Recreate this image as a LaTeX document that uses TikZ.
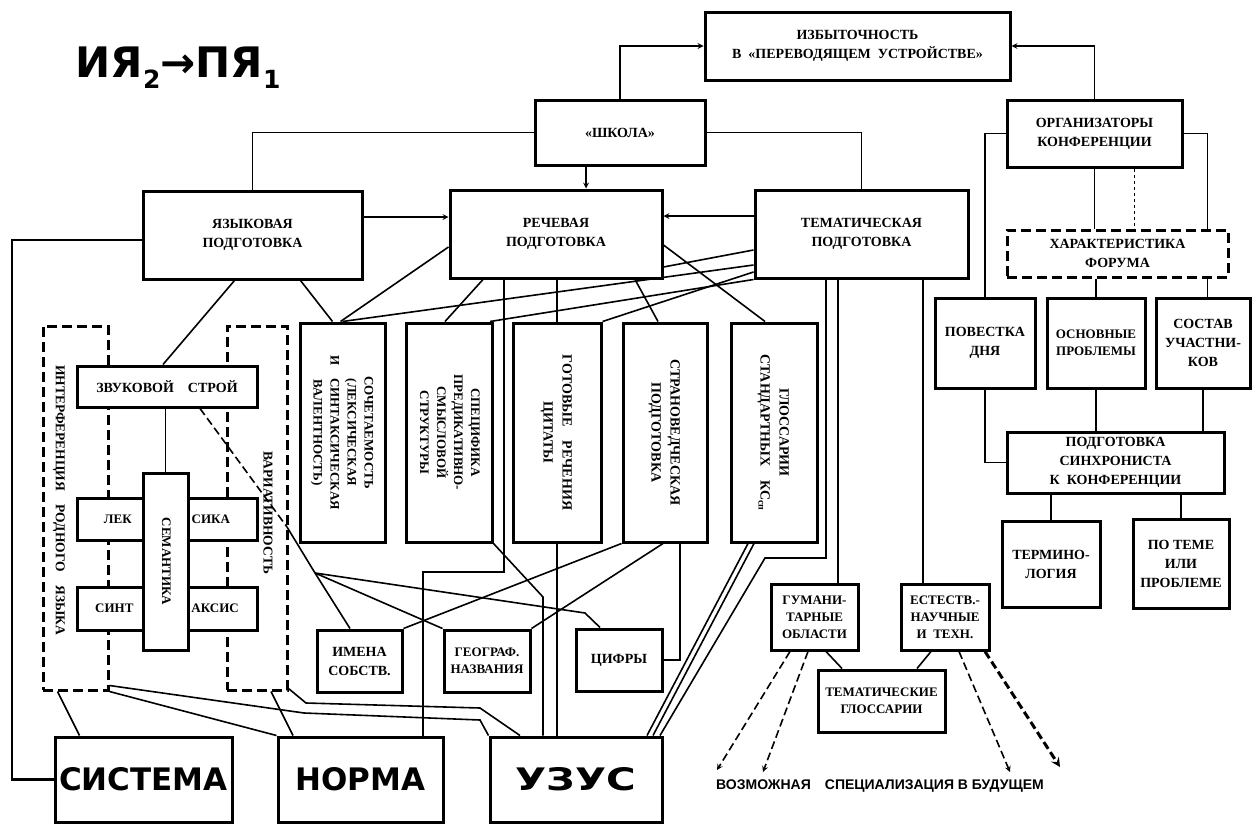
\documentclass[tikz,border=0pt]{standalone}
\usepackage{fontspec}
\usepackage{graphicx}
\setmainfont{Liberation Serif}
\newfontfamily\heavyfont{DejaVu Sans}
\newfontfamily\capsfont{Liberation Sans}
\usetikzlibrary{backgrounds}

\newcommand{\vtext}[1]{\rotatebox{-90}{\begin{tabular}{@{}c@{}}#1\end{tabular}}}

\begin{document}
\begin{tikzpicture}[x=1pt, y=-1pt, >=stealth,
  box/.style={draw, line width=3pt, fill=white, inner sep=1pt, align=center,
    font=\bfseries\fontsize{14}{19}\selectfont},
  small/.style={font=\bfseries\fontsize{13}{17}\selectfont},
  dbox/.style={draw, line width=3pt, dash pattern=on 10pt off 5pt},
  big/.style={font=\heavyfont\bfseries\fontsize{31}{31}\selectfont},
  link/.style={line width=1.6pt},
  future/.style={dashed, dash pattern=on 8pt off 4pt, ->}]
\useasboundingbox (0,0) rectangle (1253,825);

\node[font=\heavyfont\bfseries\fontsize{42}{42}\selectfont, anchor=west] (title) at (72,68)
  {ИЯ\raisebox{-11pt}{\fontsize{25}{25}\selectfont 2}→ПЯ\raisebox{-11pt}{\fontsize{25}{25}\selectfont 1}};

% top row
\node[box, minimum width=305, minimum height=68] (izb) at (857.5,46) {ИЗБЫТОЧНОСТЬ\\В\ \ «ПЕРЕВОДЯЩЕМ\ \ УСТРОЙСТВЕ»};
\node[box, minimum width=170, minimum height=65] (shkola) at (620,132.5) {«ШКОЛА»};
\node[box, minimum width=175, minimum height=67] (org) at (1094.5,133.5) {ОРГАНИЗАТОРЫ\\КОНФЕРЕНЦИИ};
\node[box, minimum width=219, minimum height=88] (yazyk) at (252.5,235) {ЯЗЫКОВАЯ\\ПОДГОТОВКА};
\node[box, minimum width=212, minimum height=88] (rech) at (556,234) {РЕЧЕВАЯ\\ПОДГОТОВКА};
\node[box, minimum width=213, minimum height=88] (tem) at (861.5,234) {ТЕМАТИЧЕСКАЯ\\ПОДГОТОВКА};

% conference side
\node[box, dbox, minimum width=221, minimum height=47] (har) at (1117.5,253.5) {ХАРАКТЕРИСТИКА\\ФОРУМА};
\node[box, minimum width=100, minimum height=90] (povest) at (985,343) {ПОВЕСТКА\\ДНЯ};
\node[box, small, minimum width=98, minimum height=90] (osn) at (1096,343) {ОСНОВНЫЕ\\ПРОБЛЕМЫ};
\node[box, minimum width=94, minimum height=90] (sostav) at (1203,343) {СОСТАВ\\УЧАСТНИ-\\КОВ};
\node[box, minimum width=217, minimum height=61] (sinhr) at (1115.5,462.5) {ПОДГОТОВКА\\СИНХРОНИСТА\\К\ \ КОНФЕРЕНЦИИ};
\node[box, minimum width=98, minimum height=86] (termin) at (1051,564) {ТЕРМИНО-\\ЛОГИЯ};
\node[box, minimum width=96, minimum height=89] (potem) at (1181,563.5) {ПО\ ТЕМЕ\\ИЛИ\\ПРОБЛЕМЕ};

% vertical boxes
\node[box, small, minimum width=85, minimum height=219] (soch) at (342.5,432.5)
  {\vtext{СОЧЕТАЕМОСТЬ\\(ЛЕКСИЧЕСКАЯ\\И\quad СИНТАКСИЧЕСКАЯ\\ВАЛЕНТНОСТЬ)}};
\node[box, small, minimum width=86, minimum height=219] (spec) at (449,432.5)
  {\vtext{СПЕЦИФИКА\\ПРЕДИКАТИВНО-\\СМЫСЛОВОЙ\\СТРУКТУРЫ}};
\node[box, minimum width=88, minimum height=219] (gotov) at (557,432.5)
  {\vtext{ГОТОВЫЕ\quad РЕЧЕНИЯ\\ЦИТАТЫ}};
\node[box, minimum width=84, minimum height=219] (stran) at (665,432.5)
  {\vtext{СТРАНОВЕДЧЕСКАЯ\\ПОДГОТОВКА}};
\node[box, minimum width=86, minimum height=219] (gloss) at (774,432.5)
  {\vtext{ГЛОССАРИИ\\СТАНДАРТНЫХ\quad КС\textsubscript{сп}}};

% small boxes
\node[box, minimum width=85, minimum height=62] (imena) at (359.5,661) {ИМЕНА\\СОБСТВ.};
\node[box, small, minimum width=86, minimum height=62] (geogr) at (487,661) {ГЕОГРАФ.\\НАЗВАНИЯ};
\node[box, minimum width=86, minimum height=62] (cifry) at (619,660) {ЦИФРЫ};
\node[box, small, minimum width=87, minimum height=66] (guman) at (814.5,617) {ГУМАНИ-\\ТАРНЫЕ\\ОБЛАСТИ};
\node[box, small, minimum width=88, minimum height=66] (estest) at (945,617) {ЕСТЕСТВ.-\\НАУЧНЫЕ\\И\ \ ТЕХН.};
\node[box, small, minimum width=127, minimum height=62] (temgloss) at (881.5,701) {ТЕМАТИЧЕСКИЕ\\ГЛОССАРИИ};

% left cluster
\node[dbox, minimum width=65, minimum height=364] (interf) at (75.5,508) {};
\node[dbox, minimum width=60, minimum height=364] (variat) at (257,508) {};
\node[font=\bfseries\fontsize{13.5}{13.5}\selectfont, rotate=-90] (interftxt) at (59,500)
  {ИНТЕРФЕРЕНЦИЯ\quad РОДНОГО\quad ЯЗЫКА};
\node[font=\bfseries\fontsize{13.5}{13.5}\selectfont, rotate=-90] (variattxt) at (268,513) {ВАРИАТИВНОСТЬ};
\node[box, minimum width=180, minimum height=41] (zvuk) at (167,386.5) {ЗВУКОВОЙ\quad СТРОЙ};
\node[box, small, minimum width=180, minimum height=42] (leks) at (167,519) {ЛЕК\hspace{60pt}СИКА};
\node[box, small, minimum width=180, minimum height=43] (sint) at (167,608.5) {СИНТ\hspace{58pt}АКСИС};
\node[box, small, minimum width=45, minimum height=177] (seman) at (165.5,561.5) {\vtext{СЕМАНТИКА}};

% bottom
\node[box, big, minimum width=177, minimum height=85] (sistema) at (143.5,779.5) {СИСТЕМА};
\node[box, big, minimum width=165, minimum height=85] (norma) at (360.5,779.5) {НОРМА};
\node[box, big, minimum width=172, minimum height=85] (uzus) at (576,779.5) {\scalebox{1.3}[1]{УЗУС}};
\node[font=\capsfont\bfseries\fontsize{14}{14}\selectfont] (future) at (880,786)
  {ВОЗМОЖНАЯ\quad СПЕЦИАЛИЗАЦИЯ В БУДУЩЕМ};

\coordinate (lft) at (12,779.5);
\coordinate (nb) at (423,572);
\coordinate (sb) at (543,597);
\coordinate (tb) at (765,558);
\coordinate (vr) at (287,527);
\coordinate (hub) at (315,573);
\coordinate (cb) at (585,613);
\coordinate (u1) at (304,713);
\coordinate (u2) at (480,720);
\coordinate (v1) at (306,703);
\coordinate (v2) at (480,708);
\coordinate (e1) at (717,770);
\coordinate (e2) at (763,772);
\coordinate (e3) at (1010,772);
\coordinate (e4) at (1060,767);

\begin{scope}[on background layer={link}]
% top
\draw[->] (shkola.north) |- (izb.west);
\draw[->] (org.north) |- (izb.east);
\draw (shkola.west) -| (yazyk.north);
\draw (shkola.east) -| (tem.north);
\draw[->] ([xshift=-34pt]shkola.south) -- ([xshift=30pt]rech.north);
\draw[->] ([yshift=18pt]yazyk.east) -- ([yshift=17pt]rech.west);
\draw[->] ([yshift=18pt]tem.west) -- ([yshift=18pt]rech.east);
\draw[line width=2.6pt] ([yshift=-5pt]yazyk.west) -| (lft) -- (sistema.west);
% conference
\draw (org.west) -| (povest.north);
\draw (org.east) -| ([xshift=90pt]har.north);
\draw (org.south) -- (org.south |- har.north);
\draw[dashed] ([xshift=40pt]org.south) -- ([xshift=40pt]org.south |- har.north);
\draw (har.south -| osn.north) -- (osn.north);
\draw ([xshift=90pt]har.south) -- ([xshift=90pt]har.south |- sostav.north);
\draw (povest.south) |- (sinhr.west);
\draw (osn.south) -- (osn.south |- sinhr.north);
\draw (sostav.south) -- (sostav.south |- sinhr.north);
\draw (sinhr.south -| termin.north) -- (termin.north);
\draw (sinhr.south -| potem.north) -- (potem.north);
% middle
\draw ([yshift=-13pt]rech.west) -- ([xshift=-2pt]soch.north);
\draw ([xshift=48pt]yazyk.south) -- ([xshift=-10pt]soch.north);
\draw ([xshift=-18pt]yazyk.south) -- ([xshift=-4pt]zvuk.north);
\draw ([yshift=-16pt]tem.west) -- ([yshift=-33pt]rech.east);
\draw ([yshift=-31pt]tem.west) -- (soch.north);
\draw ([yshift=-38pt]tem.west) -- (gotov.north east);
\draw (tem.south west) -- ([xshift=41pt]spec.north);
\draw ([xshift=-73pt]rech.south) -- ([xshift=-4pt]spec.north);
\draw ([xshift=-52pt]rech.south) |- (nb) -- (nb |- norma.north);
\draw (rech.south -| gotov.north) -- (gotov.north);
\draw ([xshift=79pt]rech.south) -- ([xshift=-7pt]stran.north);
\draw ([yshift=-11pt]rech.east) -- ([xshift=-9pt]gloss.north);
% lower
\draw (gotov.south) -- (gotov.south |- uzus.north);
\draw (spec.south east) -- (sb) -- (sb |- uzus.north);
\draw (stran.south west) -- (imena.north east);
\draw ([xshift=-2pt]stran.south) -- (geogr.north east);
\draw ([xshift=15pt]stran.south) |- (cifry.east);
\draw ([xshift=-26pt]gloss.south) -- ([xshift=71pt]uzus.north);
\draw ([xshift=-20pt]gloss.south) -- ([xshift=77pt]uzus.north);
\draw ([xshift=-35.5pt]tem.south) |- (tb) -- ([xshift=84pt]uzus.north);
\draw ([xshift=-23.5pt]tem.south) -- ([xshift=-23.5pt]tem.south |- guman.north);
\draw ([xshift=61.5pt]tem.south) -- ([xshift=61.5pt]tem.south |- estest.north);
\draw ([xshift=11.5pt]guman.south) -- ([xshift=-39.5pt]temgloss.north);
\draw ([xshift=-14pt]estest.south) -- ([xshift=35.5pt]temgloss.north);
\draw[future] ([xshift=-24.5pt]guman.south) -- (e1);
\draw[future] ([xshift=-6.5pt]guman.south) -- (e2);
\draw[future] ([xshift=14pt]estest.south) -- (e3);
\draw[future, line width=3pt] ([xshift=40pt]estest.south) -- (e4);
% left
\draw (seman.north |- zvuk.south) -- (seman.north);
\draw[dashed, dash pattern=on 8pt off 4pt] ([xshift=33pt]zvuk.south) -- (vr);
\draw (vr) -- (hub);
\draw (hub) -- ([xshift=-9.5pt]imena.north);
\draw (hub) -- (geogr.north west);
\draw (hub) -- (cb) -- ([xshift=-19pt]cifry.north);
\draw ([xshift=-18pt]interf.south) -- ([xshift=-64pt]sistema.north);
\draw (interf.south east) -- (norma.north west);
\draw ([yshift=6pt]interf.south east) -- (u1) -- (u2) -- (uzus.north west);
\draw ([xshift=14pt]variat.south) -- ([xshift=-67.5pt]norma.north);
\draw ([yshift=3pt]variat.south east) -- (v1) -- (v2) -- ([xshift=-56pt]uzus.north);
\end{scope}
\end{tikzpicture}
\end{document}
